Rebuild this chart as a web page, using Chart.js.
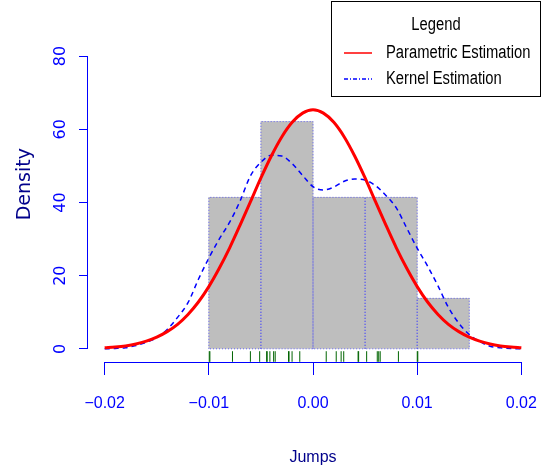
<!DOCTYPE html>
<html>
<head>
<meta charset="utf-8">
<script src="https://cdn.jsdelivr.net/npm/chart.js@4/dist/chart.umd.min.js"></script>
<style>
  html, body { margin: 0; padding: 0; background: #fff; }
  #wrap { width: 548px; height: 472px; }
</style>
</head>
<body>
<div id="wrap"><canvas id="jumpsChart" width="548" height="472"></canvas></div>
<script>
// axis ticks
var xTicks = [-0.02, -0.01, 0.00, 0.01, 0.02];
var yTicks = [0, 20, 40, 60, 80];

// histogram (density scale), bin edges and heights
var binEdges = [-0.010, -0.005, 0.000, 0.005, 0.010, 0.015];
var binDensity = [41.4, 62.1, 41.4, 41.4, 13.8];

// curves, every 0.001
var curveX = [-0.020, -0.019, -0.018, -0.017, -0.016, -0.015, -0.014, -0.013, -0.012, -0.011,
              -0.010, -0.009, -0.008, -0.007, -0.006, -0.005, -0.004, -0.003, -0.002, -0.001,
               0.000,  0.001,  0.002,  0.003,  0.004,  0.005,  0.006,  0.007,  0.008,  0.009,
               0.010,  0.011,  0.012,  0.013,  0.014,  0.015,  0.016,  0.017,  0.018,  0.019, 0.020];
var parametric = [0.3, 0.5, 0.8, 1.3, 2.1, 3.2, 4.7, 6.7, 9.4, 12.8,
                  17.0, 22.0, 27.6, 33.8, 40.2, 46.7, 52.7, 57.9, 61.9, 64.4,
                  65.3, 64.4, 61.9, 57.9, 52.7, 46.7, 40.2, 33.8, 27.6, 22.0,
                  17.0, 12.8, 9.4, 6.7, 4.7, 3.2, 2.1, 1.3, 0.8, 0.5, 0.3];
var kernel = [0.0, 0.1, 0.3, 0.9, 1.8, 3.0, 5.3, 8.6, 12.6, 19.0,
              24.8, 30.0, 34.6, 40.4, 47.3, 51.0, 52.9, 52.7, 50.6, 47.4,
              44.3, 43.4, 44.2, 45.8, 46.4, 46.1, 44.6, 41.9, 38.5, 33.0,
              27.5, 22.6, 17.2, 11.3, 7.0, 3.9, 2.0, 0.7, 0.3, 0.1, 0.0];

// observed jumps (rug)
var rugValues = [-0.00996, -0.00990, -0.00773, -0.00601, -0.00512, -0.00445, -0.00440, -0.00414,
                 -0.00378, -0.00363, -0.00235, -0.00230, -0.00201, -0.00127, 0.00127, 0.00223,
                 0.00270, 0.00295, 0.00433, 0.00438, 0.00515, 0.00617, 0.00631, 0.00645,
                 0.00820, 0.01001, 0.01006];

var BLUE = '#0000FF';
var RED = '#FF0000';
var TITLE_BLUE = '#00008B';
var SANS = "'Liberation Sans', Arial, sans-serif";
var WIDE = "'DejaVu Sans', sans-serif";

var datasets = [];

// grey histogram bars
datasets.push({
    type: 'bar',
    label: 'hist',
    data: binDensity.map(function (d, k) { return {x: (binEdges[k] + binEdges[k + 1]) / 2, y: d}; }),
    backgroundColor: '#BEBEBE',
    borderWidth: 0,
    barPercentage: 1,
    categoryPercentage: 1,
    grouped: false,
    order: 4
});

// dotted outline per bin
for (var i = 0; i < binDensity.length; i++) {
    datasets.push({
        type: 'line',
        label: 'bin' + i,
        data: [
            {x: binEdges[i], y: 0},
            {x: binEdges[i], y: binDensity[i]},
            {x: binEdges[i + 1], y: binDensity[i]},
            {x: binEdges[i + 1], y: 0},
            {x: binEdges[i], y: 0}
        ],
        fill: false,
        borderColor: 'rgba(60, 60, 255, 0.75)',
        borderWidth: 1,
        borderDash: [1, 2],
        pointRadius: 0,
        tension: 0,
        order: 3
    });
}

datasets.push({
    type: 'line',
    label: 'Kernel Estimation',
    data: curveX.map(function (x, k) { return {x: x, y: kernel[k]}; }),
    borderColor: BLUE,
    borderWidth: 1.5,
    borderDash: [5, 4],
    pointRadius: 0,
    cubicInterpolationMode: 'monotone',
    fill: false,
    order: 2
});

datasets.push({
    type: 'line',
    label: 'Parametric Estimation',
    data: curveX.map(function (x, k) { return {x: x, y: parametric[k]}; }),
    borderColor: RED,
    borderWidth: 3,
    pointRadius: 0,
    cubicInterpolationMode: 'monotone',
    fill: false,
    order: 1
});

datasets.push({
    type: 'line',
    label: 'rug',
    data: rugValues.map(function (v) { return {x: v, y: -2.1}; }),
    showLine: false,
    pointStyle: 'line',
    rotation: 90,
    pointRadius: 5.3,
    pointBorderWidth: 1,
    pointBorderColor: '#006400',
    borderColor: '#006400',
    backgroundColor: '#006400',
    clip: false,
    order: 0
});

// axis lines only span first to last tick, like base R
var axisLines = {
    id: 'axisLines',
    afterDraw: function (chart) {
        var ctx = chart.ctx, xs = chart.scales.x, ys = chart.scales.y, area = chart.chartArea;
        ctx.save();
        ctx.strokeStyle = BLUE;
        ctx.lineWidth = 1;
        ctx.beginPath();
        var yb = Math.round(area.bottom) + 0.5;
        ctx.moveTo(xs.getPixelForValue(xTicks[0]), yb);
        ctx.lineTo(xs.getPixelForValue(xTicks[xTicks.length - 1]), yb);
        var xl = Math.round(area.left) - 0.5;
        ctx.moveTo(xl, ys.getPixelForValue(yTicks[0]));
        ctx.lineTo(xl, ys.getPixelForValue(yTicks[yTicks.length - 1]));
        ctx.stroke();
        ctx.restore();
    }
};

// legend box in the top right corner
var legendItems = [
    {label: 'Parametric Estimation', color: RED, dash: []},
    {label: 'Kernel Estimation', color: BLUE, dash: [4, 2, 1, 2]}
];

var boxLegend = {
    id: 'boxLegend',
    afterDraw: function (chart) {
        var ctx = chart.ctx;
        var left = 331.5, top = 1.5, right = 540.5, bottom = 96.5;
        var rows = [53, 79];
        ctx.save();
        ctx.fillStyle = '#fff';
        ctx.fillRect(left, top, right - left, bottom - top);
        ctx.strokeStyle = '#000';
        ctx.lineWidth = 1;
        ctx.strokeRect(left, top, right - left, bottom - top);
        legendItems.forEach(function (item, k) {
            ctx.beginPath();
            ctx.strokeStyle = item.color;
            ctx.lineWidth = 1.5;
            ctx.setLineDash(item.dash);
            ctx.moveTo(344, rows[k]);
            ctx.lineTo(372, rows[k]);
            ctx.stroke();
        });
        ctx.setLineDash([]);
        // condensed text, like the R device font
        ctx.font = '18px ' + SANS;
        ctx.fillStyle = '#000';
        ctx.textBaseline = 'middle';
        ctx.scale(0.82, 1);
        ctx.textAlign = 'center';
        ctx.fillText('Legend', ((left + right) / 2) / 0.82, 25);
        ctx.textAlign = 'left';
        legendItems.forEach(function (item, k) {
            ctx.fillText(item.label, 386 / 0.82, rows[k]);
        });
        ctx.restore();
    }
};

function noPadding(axis) {
    axis.paddingTop = 0;
    axis.paddingBottom = 0;
    axis.paddingLeft = 0;
    axis.paddingRight = 0;
}

var ctx = document.getElementById('jumpsChart').getContext('2d');
var jumpsChart = new Chart(ctx, {
    type: 'line',
    data: { datasets: datasets },
    options: {
        responsive: false,
        animation: false,
        layout: { padding: { left: 0, right: 10, top: 6, bottom: 0 } },
        plugins: {
            legend: { display: false },
            tooltip: { enabled: false }
        },
        scales: {
            x: {
                type: 'linear',
                min: -0.0216,
                max: 0.0216,
                offset: false,
                afterBuildTicks: function (axis) {
                    axis.ticks = xTicks.map(function (v) { return {value: v}; });
                },
                afterFit: function (axis) { axis.height = 110; noPadding(axis); },
                border: { display: false },
                grid: {
                    drawOnChartArea: false,
                    drawTicks: true,
                    tickLength: 13,
                    color: BLUE,
                    offset: false
                },
                ticks: {
                    color: BLUE,
                    font: { family: SANS, size: 16 },
                    padding: 19,
                    maxRotation: 0,
                    callback: function (v) { return v.toFixed(2).replace('-', '\u2212'); }
                },
                title: {
                    display: true,
                    text: 'Jumps',
                    color: TITLE_BLUE,
                    font: { family: SANS, size: 16 },
                    padding: { top: 0, bottom: 5 }
                }
            },
            y: {
                type: 'linear',
                min: -3.6,
                max: 93.6,
                afterBuildTicks: function (axis) {
                    axis.ticks = yTicks.map(function (v) { return {value: v}; });
                },
                afterFit: function (axis) { axis.width = 88; noPadding(axis); },
                border: { display: false },
                grid: {
                    drawOnChartArea: false,
                    drawTicks: true,
                    tickLength: 9,
                    color: BLUE
                },
                ticks: {
                    color: BLUE,
                    font: { family: WIDE, size: 16 },
                    minRotation: 90,
                    maxRotation: 90,
                    crossAlign: 'center',
                    padding: 8
                },
                title: {
                    display: true,
                    text: 'Density',
                    color: TITLE_BLUE,
                    font: { family: WIDE, size: 19 },
                    padding: { top: 14, bottom: 0 }
                }
            }
        }
    },
    plugins: [axisLines, boxLegend]
});
</script>
</body>
</html>
